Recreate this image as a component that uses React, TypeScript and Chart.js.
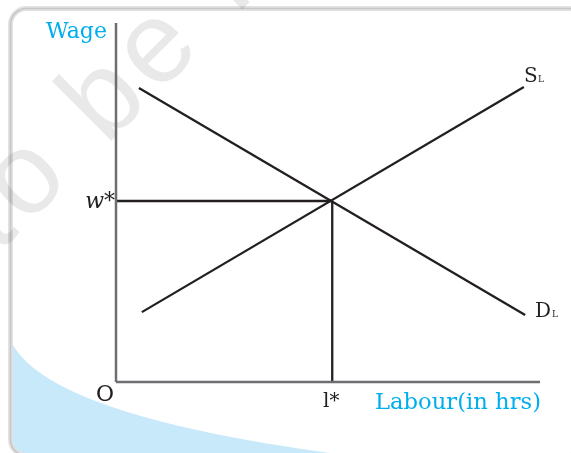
import React, { useEffect, useRef } from "react";
import { Chart, registerables } from "chart.js";
Chart.register(...registerables);

// ---- data (chart units) ----
const demandX = [0.54, 9.65];
const demandY = [8.12, 1.85];
const supplyX = [0.61, 9.62];
const supplyY = [1.93, 8.15];
const equilibriumL = 5.1; // l*
const equilibriumW = 5.0; // w*
const axisXEnd = 10;
const axisYEnd = 9.92;

// ---- text ----
const yAxisTitle = "Wage";
const xAxisTitle = "Labour(in hrs)";
const wStarLabel = "w*";
const lStarLabel = "l*";
const originLabel = "O";
const supplyLabel = ["S", "L"];
const demandLabel = ["D", "L"];
const watermarkText = "not to be republished";
const watermarkSplit = "not t";

const CYAN = "#00aeef";
const INK = "#231f20";
const AXIS = "#6d6e71";
const SERIF = "'DejaVu Serif', serif";

function pts(xs: number[], ys: number[]) {
  return xs.map((x, i) => ({ x, y: ys[i] }));
}

const backgroundPlugin = {
  id: "bg",
  beforeDraw(chart: any) {
    const ctx: CanvasRenderingContext2D = chart.ctx;
    const W = chart.width;
    const H = chart.height;
    ctx.save();
    ctx.fillStyle = "#ffffff";
    ctx.fillRect(0, 0, W, H);

    const frame = () => {
      ctx.beginPath();
      (ctx as any).roundRect(10.5, 8.5, 574, 447, 16);
    };

    // blue sweep
    ctx.save();
    frame();
    ctx.clip();
    ctx.beginPath();
    ctx.moveTo(11, 341);
    ctx.quadraticCurveTo(46, 416, 345, 455);
    ctx.lineTo(11, 456);
    ctx.closePath();
    ctx.fillStyle = "#c7e9f9";
    ctx.fill();
    ctx.restore();

    // frame border
    frame();
    ctx.lineWidth = 5;
    ctx.strokeStyle = "#e2e2e2";
    ctx.stroke();
    frame();
    ctx.lineWidth = 1.6;
    ctx.strokeStyle = "#c6c6c6";
    ctx.stroke();

    // watermark
    ctx.save();
    ctx.translate(26, 226);
    ctx.rotate((-45 * Math.PI) / 180);
    ctx.font = "116px 'Liberation Sans', sans-serif";
    (ctx as any).letterSpacing = "8px";
    ctx.fillStyle = "rgba(0,0,0,0.085)";
    ctx.textAlign = "left";
    ctx.textBaseline = "alphabetic";
    const off = ctx.measureText(watermarkSplit).width;
    ctx.fillText(watermarkText, -off, 0);
    ctx.restore();

    ctx.restore();
  },
};

const labelPlugin = {
  id: "labels",
  afterDraw(chart: any) {
    const ctx: CanvasRenderingContext2D = chart.ctx;
    const xs = chart.scales.x;
    const ys = chart.scales.y;
    const px = (v: number) => xs.getPixelForValue(v);
    const py = (v: number) => ys.getPixelForValue(v);
    ctx.save();
    ctx.textBaseline = "alphabetic";

    const fitText = (t: string, xRight: number, y: number, font: string, color: string, width: number) => {
      ctx.font = font;
      ctx.fillStyle = color;
      const w = ctx.measureText(t).width;
      ctx.save();
      ctx.translate(xRight - width, y);
      ctx.scale(width / w, 1);
      ctx.textAlign = "left";
      ctx.fillText(t, 0, 0);
      ctx.restore();
    };

    fitText(yAxisTitle, px(0) - 9, 38, `22px ${SERIF}`, CYAN, 61);
    fitText(xAxisTitle, px(axisXEnd) + 1, 409, `22px ${SERIF}`, CYAN, 166);

    ctx.font = `italic 22px ${SERIF}`;
    ctx.fillStyle = INK;
    ctx.textAlign = "right";
    ctx.fillText(wStarLabel, px(0) - 1, py(equilibriumW) + 7);

    ctx.font = `22px ${SERIF}`;
    ctx.textAlign = "right";
    ctx.fillText(originLabel, px(0) - 2, py(0) + 19);

    ctx.font = `20px ${SERIF}`;
    ctx.textAlign = "center";
    ctx.fillText(lStarLabel, px(equilibriumL) - 1, py(0) + 25);

    ctx.textAlign = "left";
    ctx.font = `20px ${SERIF}`;
    ctx.fillText(supplyLabel[0], 524, 82);
    ctx.font = `9px ${SERIF}`;
    ctx.fillText(supplyLabel[1], 538, 82);

    ctx.font = `20px ${SERIF}`;
    ctx.fillText(demandLabel[0], 535, 317);
    ctx.font = `9px ${SERIF}`;
    ctx.fillText(demandLabel[1], 552, 317);

    ctx.restore();
  },
};

export default function App() {
  const ref = useRef<HTMLCanvasElement | null>(null);
  useEffect(() => {
    if (!ref.current) return;
    const line = (data: any[], color: string, width: number) => ({
      data,
      showLine: true,
      borderColor: color,
      backgroundColor: color,
      borderWidth: width,
      pointRadius: 0,
      fill: false,
      clip: false as any,
    });
    const chart = new Chart(ref.current, {
      type: "scatter",
      data: {
        datasets: [
          line([{ x: 0, y: 0 }, { x: 0, y: axisYEnd }], AXIS, 2.5),
          line([{ x: 0, y: 0 }, { x: axisXEnd, y: 0 }], AXIS, 2.5),
          line([{ x: 0, y: equilibriumW }, { x: equilibriumL, y: equilibriumW }], INK, 2.3),
          line([{ x: equilibriumL, y: equilibriumW }, { x: equilibriumL, y: 0 }], INK, 2.3),
          line(pts(demandX, demandY), INK, 2.3),
          line(pts(supplyX, supplyY), INK, 2.3),
        ],
      },
      options: {
        responsive: false,
        animation: false,
        events: [],
        layout: { padding: { left: 116, right: 31, top: 20, bottom: 71 } },
        scales: {
          x: { type: "linear", min: 0, max: 10, display: false },
          y: { type: "linear", min: 0, max: 10, display: false },
        },
        plugins: { legend: { display: false }, tooltip: { enabled: false } },
      },
      plugins: [backgroundPlugin, labelPlugin],
    } as any);
    return () => chart.destroy();
  }, []);
  return (
    <div style={{ position: "absolute", left: 0, top: 0, width: 571, height: 453 }}>
      <canvas ref={ref} width={571} height={453} style={{ display: "block" }} />
    </div>
  );
}
